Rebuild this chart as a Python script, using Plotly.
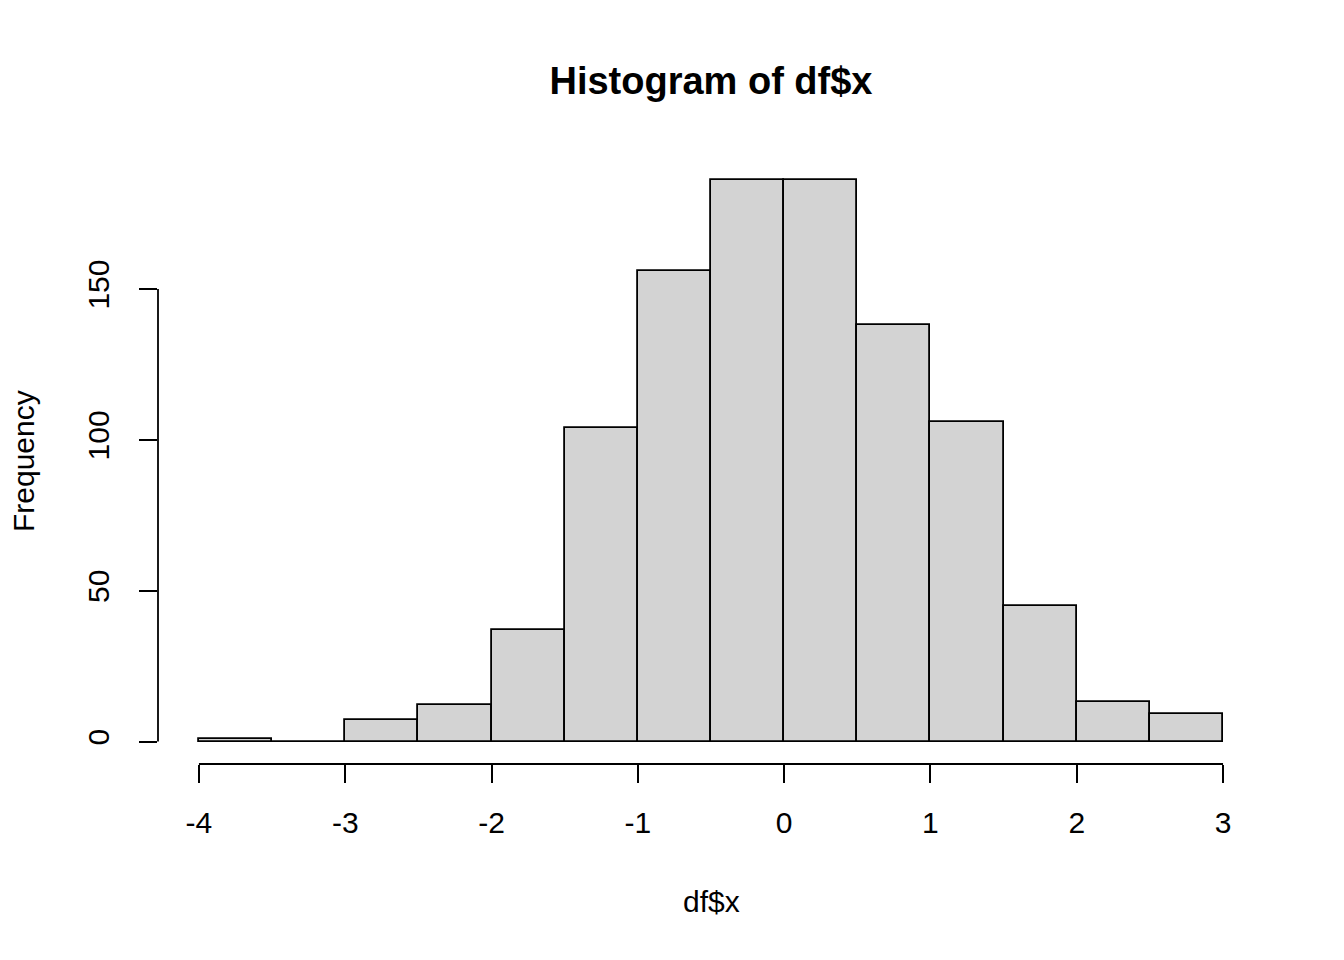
import plotly.graph_objects as go

# histogram bins (left edges) and counts
bin_left = [-4.0, -3.5, -3.0, -2.5, -2.0, -1.5, -1.0, -0.5, 0.0, 0.5, 1.0, 1.5, 2.0, 2.5]
counts = [1, 0, 7, 12, 37, 104, 156, 186, 186, 138, 106, 45, 13, 9]
bin_width = 0.5

x_ticks = [-4, -3, -2, -1, 0, 1, 2, 3]
x_labels = ["-4", "-3", "-2", "-1", "0", "1", "2", "3"]
y_ticks = [0, 50, 100, 150]
y_labels = ["0", "50", "100", "150"]

font = "Liberation Sans, Arial, Helvetica, sans-serif"
lw = 1.8

fig = go.Figure()

fig.add_trace(go.Bar(
    x=bin_left, y=counts, width=bin_width, offset=0,
    marker=dict(color="#D3D3D3", line=dict(color="black", width=lw)),
    hoverinfo="x+y",
))

# R style axes: line only spans first to last tick
x_lo, x_hi = x_ticks[0], x_ticks[-1]
y_lo, y_hi = y_ticks[0], y_ticks[-1]
pad_x = 0.04 * (x_hi - x_lo)
pad_y = 0.04 * max(counts)

fig.add_shape(type="line", xref="x", yref="paper", x0=x_lo, x1=x_hi, y0=0, y1=0,
              line=dict(color="black", width=lw))
fig.add_shape(type="line", xref="paper", yref="y", x0=0, x1=0, y0=y_lo, y1=y_hi,
              line=dict(color="black", width=lw))

fig.update_layout(
    width=1344, height=960,
    margin=dict(l=150, r=88, t=150, b=204),
    paper_bgcolor="white", plot_bgcolor="white",
    showlegend=False,
    bargap=0,
    font=dict(family=font, size=30, color="black"),
    title=dict(text="<b>Histogram of df$x</b>", x=(150 + 1256) / 2 / 1344, xanchor="center",
               y=1 - 73 / 960, yanchor="middle", yref="container",
               font=dict(size=38, family=font, color="black")),
    xaxis=dict(range=[x_lo - pad_x, x_hi + pad_x], tickvals=x_ticks, ticktext=x_labels,
               ticks="outside", ticklen=18, tickwidth=lw, tickcolor="black",
               showgrid=False, zeroline=False, showline=False,
               ticklabelstandoff=14),
    yaxis=dict(range=[-pad_y, max(counts) + pad_y], tickvals=y_ticks, ticktext=y_labels,
               ticks="outside", ticklen=18, tickwidth=lw, tickcolor="black",
               showgrid=False, zeroline=False, showline=False,
               tickangle=-90, ticklabelstandoff=18),
    annotations=[
        dict(text="df$x", xref="paper", yref="paper", x=0.5, y=0, xanchor="center",
             yanchor="middle", yshift=-137, showarrow=False, font=dict(size=30)),
        dict(text="Frequency", xref="paper", yref="paper", x=0, y=0.5, xanchor="center",
             yanchor="middle", xshift=-135, textangle=-90, showarrow=False,
             font=dict(size=30)),
    ],
)

fig.write_html("out.html")
